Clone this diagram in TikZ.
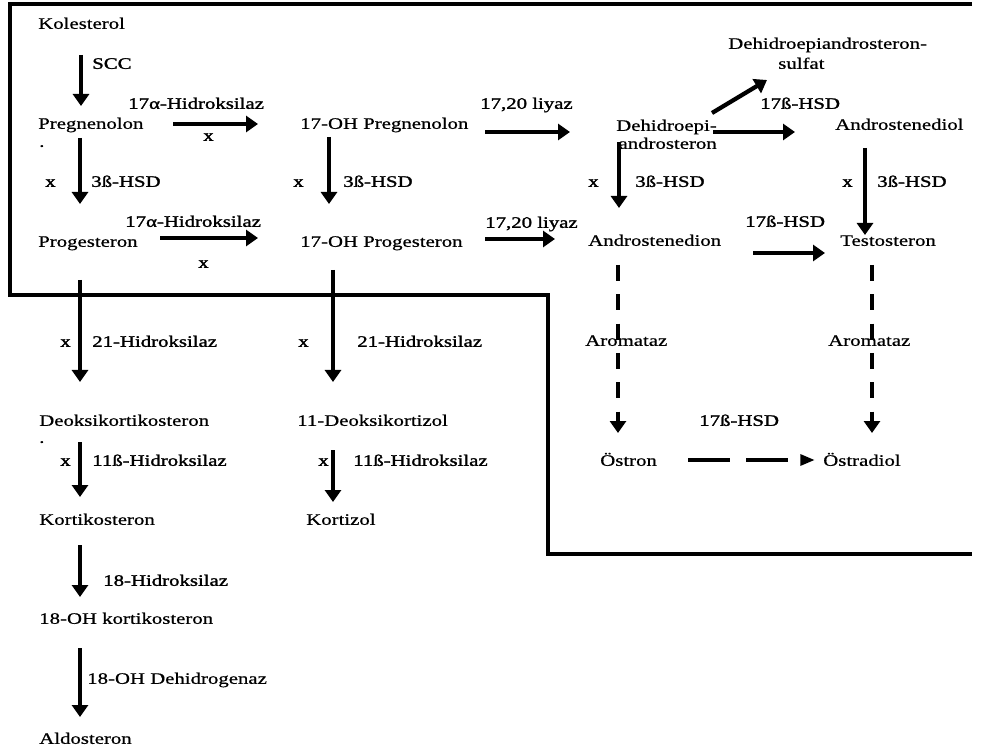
\documentclass[tikz,border=0pt]{standalone}
\usepackage{fontspec}
\setmainfont[FakeStretch=1.3,FakeBold=0.7]{Liberation Serif}
\newfontfamily\lblfont[FakeStretch=1.3,FakeBold=1.6]{Liberation Serif}
\usetikzlibrary{arrows.meta}
\begin{document}
\begin{tikzpicture}[x=0.75pt,y=-0.75pt]
\tikzset{
 txt/.style={anchor=west, inner sep=0pt, font=\fontsize{12}{14}\selectfont, text height=1.5ex, text depth=0.25ex},
 lbl/.style={txt, font=\lblfont\fontsize{12}{14}\selectfont},
 arr/.style={line width=3.2pt, -{Triangle[length=9pt,width=12pt]}},
 darr/.style={line width=3pt, dash pattern=on 12pt off 10pt, -{Triangle[length=9pt,width=12pt]}},
 hdarr/.style={line width=3pt, dash pattern=on 31.5pt off 12pt, -{Triangle[length=11pt,width=8pt]}},
 frame/.style={line width=3pt}
}
\useasboundingbox (0,0) rectangle (982,752);
% frame
\draw[frame] (972,4) -- (10,4) -- (10,295) -- (548,295) -- (548,554) -- (972,554);
% texts
\node[txt] (kol) at (38,25) {Kolesterol};
\node[lbl] (scc) at (92,65) {SCC};
\node[txt] (preg) at (38,125) {Pregnenolon};
\node[txt] (dot1) at (39,143) {.};
\node[lbl] (h17a) at (128,105) {17α-Hidroksilaz};
\node[lbl] (x1) at (203,137) {x};
\node[lbl] (x2) at (45,183) {x};
\node[lbl] (hsd1) at (91,183) {3ß-HSD};
\node[lbl] (h17b) at (125,223) {17α-Hidroksilaz};
\node[txt] (prog) at (38,243) {Progesteron};
\node[lbl] (x3) at (198,264) {x};
\node[txt] (ohpreg) at (300,125) {17-OH Pregnenolon};
\node[lbl] (x4) at (293,183) {x};
\node[lbl] (hsd2) at (343,183) {3ß-HSD};
\node[txt] (ohprog) at (300,243) {17-OH Progesteron};
\node[lbl] (ly1) at (480,105) {17,20 liyaz};
\node[lbl] (ly2) at (485,224) {17,20 liyaz};
\node[txt, anchor=east] (dhea1) at (717,127) {Dehidroepi-};
\node[txt, anchor=east] (dhea2) at (717,145) {androsteron};
\node[txt] (sulf1) at (728,45) {Dehidroepiandrosteron-};
\node[txt] (sulf2) at (778,65) {sulfat};
\node[lbl] (hsd17a) at (760,105) {17ß-HSD};
\node[txt] (adiol) at (835,126) {Androstenediol};
\node[lbl] (x5) at (588,183) {x};
\node[lbl] (hsd3) at (635,183) {3ß-HSD};
\node[lbl] (x6) at (842,183) {x};
\node[lbl] (hsd4) at (877,183) {3ß-HSD};
\node[lbl] (hsd17b) at (745,223) {17ß-HSD};
\node[txt] (adion) at (588,242) {Androstenedion};
\node[txt] (testo) at (840,242) {Testosteron};
\node[txt] (arom1) at (585,342) {Aromataz};
\node[txt] (arom2) at (828,342) {Aromataz};
\node[lbl] (hsd17c) at (699,422) {17ß-HSD};
\node[txt] (estron) at (600,462) {Östron};
\node[txt] (estrad) at (823,462) {Östradiol};
\node[lbl] (x7) at (60,343) {x};
\node[lbl] (h21a) at (92,343) {21-Hidroksilaz};
\node[lbl] (x8) at (298,343) {x};
\node[lbl] (h21b) at (357,343) {21-Hidroksilaz};
\node[txt] (doc) at (39,422) {Deoksikortikosteron};
\node[txt] (dot2) at (39,439) {.};
\node[lbl] (x9) at (60,462) {x};
\node[lbl] (h11a) at (92,462) {11ß-Hidroksilaz};
\node[txt] (dcort) at (297,422) {11-Deoksikortizol};
\node[lbl] (x10) at (318,462) {x};
\node[lbl] (h11b) at (353,462) {11ß-Hidroksilaz};
\node[txt] (corti) at (39,521) {Kortikosteron};
\node[txt] (cortizol) at (306,521) {Kortizol};
\node[lbl] (h18) at (103,582) {18-Hidroksilaz};
\node[txt] (oh18) at (39,620) {18-OH kortikosteron};
\node[txt] (dh18) at (87,680) {18-OH Dehidrogenaz};
\node[txt] (aldo) at (39,740) {Aldosteron};
% arrows
\draw[arr] (81,55) -- (81,106);
\draw[arr] (173,124) -- (258,124);
\draw[arr] (80,138) -- (80,204);
\draw[arr] (160,238) -- (258,238);
\draw[arr] (329,137) -- (329,204);
\draw[arr] (485,132) -- (570,132);
\draw[arr] (485,239) -- (555,239);
\draw[arr] (712,113) -- (767,80);
\draw[arr] (713,132) -- (795,132);
\draw[arr] (619,142) -- (619,208);
\draw[arr] (865,148) -- (865,235);
\draw[arr] (753,253) -- (825,253);
\draw[darr] (618,265) -- (618,433);
\draw[darr] (872,265) -- (872,433);
\draw[hdarr] (688,460) -- (815,460);
\draw[arr] (80,280) -- (80,382);
\draw[arr] (333,270) -- (333,382);
\draw[arr] (80,442) -- (80,497);
\draw[arr] (333,450) -- (333,502);
\draw[arr] (80,545) -- (80,597);
\draw[arr] (80,648) -- (80,717);
\end{tikzpicture}
\end{document}
